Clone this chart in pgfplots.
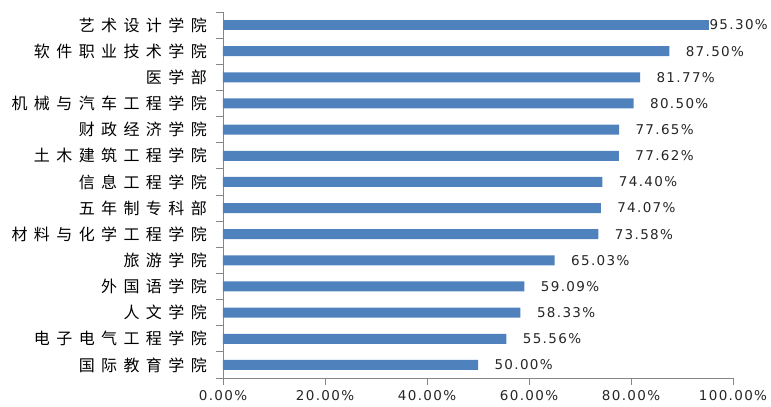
\documentclass[border=0pt]{standalone}
\usepackage{fontspec}
\usepackage{pgfplots}
\pgfplotsset{compat=1.18}
\setmainfont[LetterSpace=10]{DejaVu Sans}
\newfontfamily\cjk[LetterSpace=40]{Noto Sans CJK SC}
\definecolor{barblue}{HTML}{4F81BD}
\definecolor{axisgray}{HTML}{868686}
\begin{document}
\begin{tikzpicture}
\begin{axis}[
  xbar, bar shift=0pt, bar width=10bp,
  scale only axis, width=510bp, height=366bp,
  xmin=0, xmax=100, ymin=-0.5, ymax=13.5,
  axis x line*=bottom, axis y line*=left,
  axis line style={axisgray, line width=0.8bp, -},
  tick align=outside, major tick length=7bp,
  tick style={axisgray, line width=0.8bp},
  xtick={0,20,...,100},
  xticklabels={0.00\%,20.00\%,40.00\%,60.00\%,80.00\%,100.00\%},
  xticklabel style={font=\fontsize{13.5bp}{15bp}\selectfont, text=black!85, yshift=-2bp},
  ytick={-0.5,0.5,...,13.5},
  yticklabels={,,,,,,,,,,,,,,,},
  extra y ticks={0,1,...,13},
  extra y tick labels={国际教育学院,电子电气工程学院,人文学院,外国语学院,旅游学院,材料与化学工程学院,五年制专科部,信息工程学院,土木建筑工程学院,财政经济学院,机械与汽车工程学院,医学部,软件职业技术学院,艺术设计学院},
  extra y tick style={major tick length=0pt, tick label style={font={\cjk\fontsize{16bp}{18bp}\selectfont}, text=black, anchor=east, inner sep=0pt, xshift=-16bp}},
  point meta=explicit symbolic,
  nodes near coords,
  nodes near coords style={font=\fontsize{13.5bp}{15bp}\selectfont, text=black!85, anchor=west, xshift=13bp},
]
\addplot[fill=barblue, draw=none] coordinates {
  (50.00,0) [50.00\%]
  (55.56,1) [55.56\%]
  (58.33,2) [58.33\%]
  (59.09,3) [59.09\%]
  (65.03,4) [65.03\%]
  (73.58,5) [73.58\%]
  (74.07,6) [74.07\%]
  (74.40,7) [74.40\%]
  (77.62,8) [77.62\%]
  (77.65,9) [77.65\%]
  (80.50,10) [80.50\%]
  (81.77,11) [81.77\%]
  (87.50,12) [87.50\%]
};
\addplot[fill=barblue, draw=none, nodes near coords style={xshift=-16bp}] coordinates {
  (95.30,13) [95.30\%]
};
\end{axis}
\pgfresetboundingbox
\path ([shift={(-223bp,-29bp)}]current axis.south west) rectangle ([shift={(38bp,12bp)}]current axis.north east);
\end{tikzpicture}
\end{document}
